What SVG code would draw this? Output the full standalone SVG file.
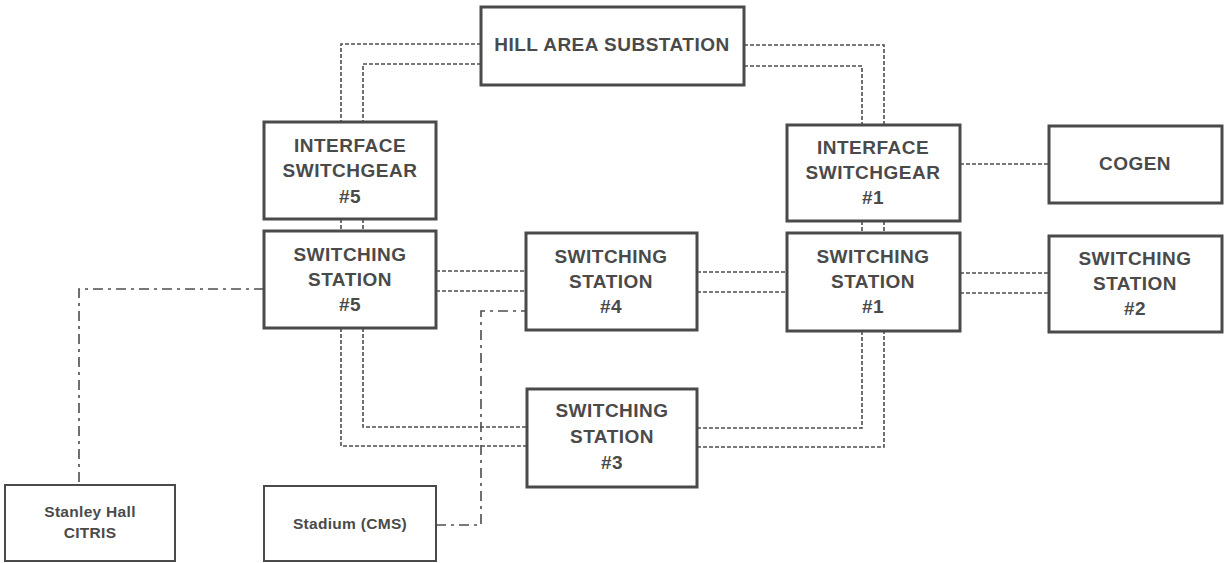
<svg xmlns="http://www.w3.org/2000/svg" width="1225" height="563" viewBox="0 0 1225 563">
<style>
.box{fill:#fff;stroke:#4a4a4a;stroke-width:3}
.sbox{fill:#fff;stroke:#4a4a4a;stroke-width:2}
.t{font-family:"Liberation Sans",Arial,sans-serif;font-weight:bold;font-size:19px;letter-spacing:0.5px;fill:#4a4a4a;text-anchor:middle}
.ts{font-family:"Liberation Sans",Arial,sans-serif;font-weight:bold;font-size:15.5px;letter-spacing:0.3px;fill:#4a4a4a;text-anchor:middle}
.d{fill:none;stroke:#4d4d4d;stroke-width:1.6;stroke-dasharray:4 2}
.dd{fill:none;stroke:#4d4d4d;stroke-width:1.6;stroke-dasharray:10 5 3 5}
</style>
<rect width="1225" height="563" fill="#fff"/>
<g id="connectors">
<path class="d" d="M481,44 H341 V122"/>
<path class="d" d="M481,64 H363 V122"/>
<path class="d" d="M744,45 H884 V125"/>
<path class="d" d="M744,66 H862 V125"/>
<path class="d" d="M341,219 V231 M363,219 V231"/>
<path class="d" d="M862,221 V233 M884,221 V233"/>
<path class="d" d="M436,271 H526 M436,291 H526"/>
<path class="d" d="M697,272 H787 M697,292 H787"/>
<path class="d" d="M960,273 H1049 M960,293 H1049"/>
<path class="d" d="M960,164 H1049"/>
<path class="d" d="M363,328 V427 H527"/>
<path class="d" d="M341,328 V446 H527"/>
<path class="d" d="M697,428 H862 V331"/>
<path class="d" d="M697,447 H884 V331"/>
<path class="dd" d="M264,289 H79 V485"/>
<path class="dd" d="M436,525 H481 V311 H526"/>
</g>
<g id="hill"><rect class="box" x="481" y="7" width="263" height="78"/><text class="t" x="612" y="51">HILL AREA SUBSTATION</text></g>
<g id="is5"><rect class="box" x="264" y="122" width="172" height="97"/><text class="t" x="350" y="152">INTERFACE</text><text class="t" x="350" y="177">SWITCHGEAR</text><text class="t" x="350" y="203">#5</text></g>
<g id="ss5"><rect class="box" x="264" y="231" width="172" height="97"/><text class="t" x="350" y="261">SWITCHING</text><text class="t" x="350" y="286">STATION</text><text class="t" x="350" y="311">#5</text></g>
<g id="ss4"><rect class="box" x="526" y="233" width="171" height="97"/><text class="t" x="611" y="263">SWITCHING</text><text class="t" x="611" y="288">STATION</text><text class="t" x="611" y="313">#4</text></g>
<g id="is1"><rect class="box" x="787" y="125" width="173" height="96"/><text class="t" x="873" y="154">INTERFACE</text><text class="t" x="873" y="179">SWITCHGEAR</text><text class="t" x="873" y="204">#1</text></g>
<g id="ss1"><rect class="box" x="787" y="233" width="173" height="98"/><text class="t" x="873" y="263">SWITCHING</text><text class="t" x="873" y="288">STATION</text><text class="t" x="873" y="313">#1</text></g>
<g id="cogen"><rect class="box" x="1049" y="126" width="173" height="77"/><text class="t" x="1135" y="170">COGEN</text></g>
<g id="ss2"><rect class="box" x="1049" y="236" width="173" height="96"/><text class="t" x="1135" y="265">SWITCHING</text><text class="t" x="1135" y="290">STATION</text><text class="t" x="1135" y="315">#2</text></g>
<g id="ss3"><rect class="box" x="527" y="389" width="170" height="98"/><text class="t" x="612" y="417">SWITCHING</text><text class="t" x="612" y="443">STATION</text><text class="t" x="612" y="469">#3</text></g>
<g id="stanley"><rect class="sbox" x="5" y="485" width="170" height="76"/><text class="ts" x="90" y="517">Stanley Hall</text><text class="ts" x="90" y="538">CITRIS</text></g>
<g id="stadium"><rect class="sbox" x="264" y="486" width="172" height="75"/><text class="ts" x="350" y="529">Stadium (CMS)</text></g>
</svg>
